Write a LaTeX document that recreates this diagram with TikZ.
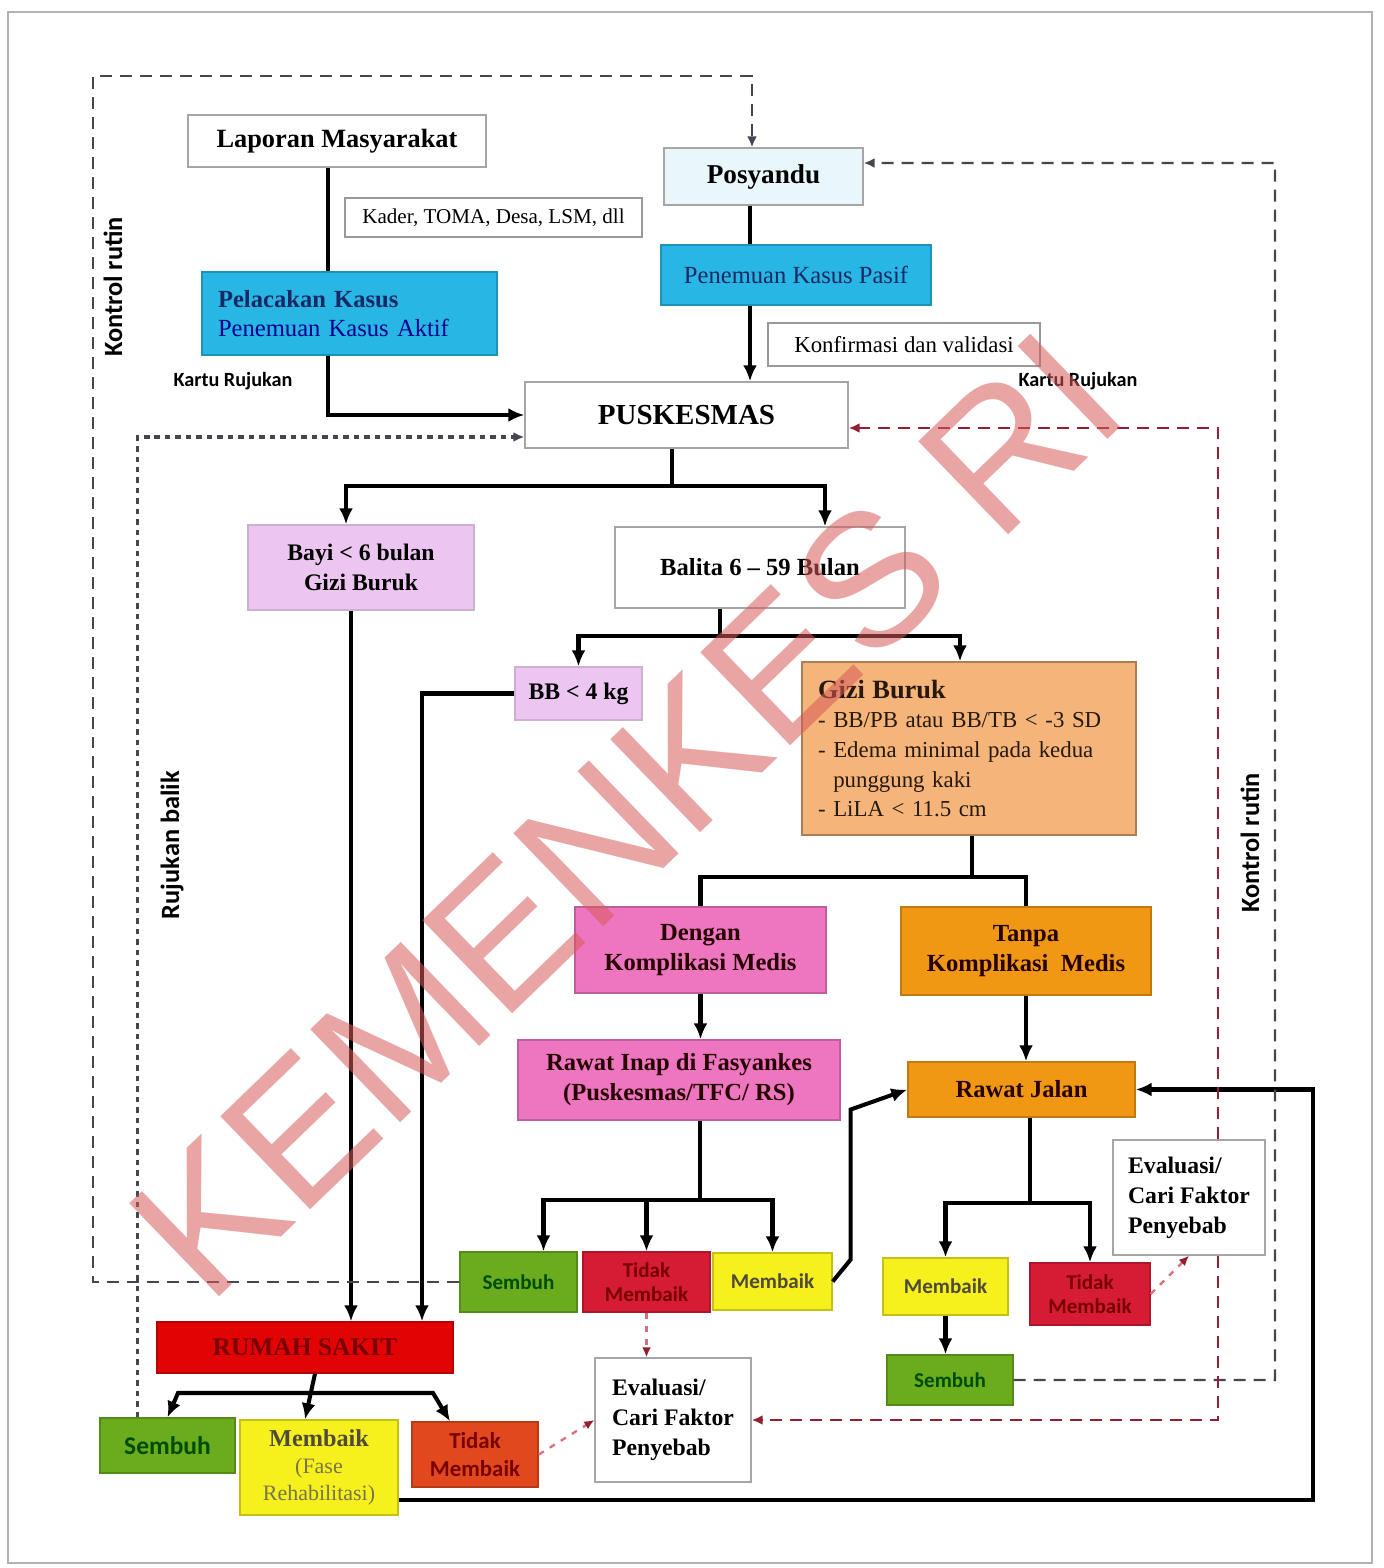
\documentclass[tikz,border=0pt]{standalone}
\usepackage{fontspec}
\setmainfont{Liberation Serif}
\setsansfont{Liberation Sans}
\newfontfamily\condsans{Carlito}
\usetikzlibrary{arrows.meta}
\definecolor{navy}{RGB}{25,40,100}
\definecolor{skyblue}{RGB}{40,182,228}
\definecolor{posyfill}{RGB}{234,247,250}
\definecolor{lilac}{RGB}{236,198,240}
\definecolor{peach}{RGB}{245,180,122}
\definecolor{pinkish}{RGB}{238,118,192}
\definecolor{orangey}{RGB}{240,152,20}
\definecolor{greeny}{RGB}{106,172,30}
\definecolor{redish}{RGB}{214,28,52}
\definecolor{yellowy}{RGB}{246,240,28}
\definecolor{rsred}{RGB}{226,4,4}
\definecolor{rsdark}{RGB}{120,0,0}
\definecolor{tidakred}{RGB}{226,72,30}
\definecolor{dashgray}{RGB}{70,70,80}
\definecolor{darkred}{RGB}{150,30,50}
\definecolor{dotred}{RGB}{215,110,120}
\definecolor{wmred}{RGB}{215,90,90}
\begin{document}
\begin{tikzpicture}
[x=0.02cm, y=-0.02cm,
plain/.style={rectangle, draw=gray!70, thick, fill=white, align=center, inner sep=2pt, font=\bfseries\fontsize{14}{17}\selectfont},
notebox/.style={rectangle, draw=gray!80, thick, fill=white, inner sep=2pt, font=\fontsize{12}{14}\selectfont},
posybox/.style={plain, fill=posyfill, font=\bfseries\fontsize{15.5}{18}\selectfont},
bluebox/.style={plain, fill=skyblue, draw=skyblue!80!black, text=navy, font=\fontsize{14}{16.5}\selectfont},
lilacbox/.style={plain, fill=lilac, draw=lilac!70!gray, font=\bfseries\fontsize{13.5}{17}\selectfont},
peachbox/.style={plain, fill=peach, draw=peach!70!black, text=black!80!brown, align=left, font=\fontsize{13}{16.8}\selectfont},
pinkbox/.style={plain, fill=pinkish, draw=pinkish!80!black, text=black!85!red, font=\bfseries\fontsize{14}{17}\selectfont},
orangebox/.style={plain, fill=orangey, draw=orangey!80!black, text=black!85!red, font=\bfseries\fontsize{14}{17}\selectfont},
smallbox/.style={plain, font=\condsans\bfseries\fontsize{12}{14}\selectfont},
greenbox/.style={smallbox, fill=greeny, draw=greeny!80!black, text=black!70!green},
redbox/.style={smallbox, fill=redish, draw=redish!80!black, text=rsdark},
yellowbox/.style={smallbox, fill=yellowy, draw=yellowy!80!black, text=black!80!yellow},
rsbox/.style={plain, fill=rsred, draw=rsred!80!black, text=rsdark, font=\bfseries\fontsize{14.5}{17}\selectfont},
rsredbox/.style={smallbox, fill=tidakred, draw=tidakred!80!black, text=rsdark, font=\condsans\bfseries\fontsize{13}{16}\selectfont},
evalbox/.style={plain, align=left, font=\bfseries\fontsize{13.5}{17}\selectfont},
sidelabel/.style={inner sep=1pt, font=\condsans\bfseries\fontsize{11.5}{13}\selectfont},
conn/.style={line width=2.3pt, black},
arr/.style={conn, -{Latex[length=3.2mm,width=2.8mm]}},
dashline/.style={line width=1.4pt, dashgray, dash pattern=on 2.4mm off 1.6mm, -{Latex[length=2.2mm,width=2mm]}},
dotline/.style={line width=1.8pt, dashgray, dash pattern=on 1.1mm off 1mm, -{Latex[length=2.2mm,width=2mm]}},
reddash/.style={line width=1.4pt, darkred, dash pattern=on 2.4mm off 1.6mm, -{Latex[length=2.2mm,width=2mm]}},
reddot/.style={line width=1.3pt, dotred, dash pattern=on 1.2mm off 1.4mm, -{Latex[length=2mm,width=1.8mm,color=darkred]}}
]
\useasboundingbox (0,0) rectangle (1383,1568);
\draw[gray!60, thick] (8,12) rectangle (1372,1563);

%Nodes
\node[plain, minimum width=5.96cm, minimum height=1.04cm, font=\bfseries\fontsize{15}{18}\selectfont] (lap) at (337,141) {Laporan Masyarakat};
\node[notebox, minimum width=5.94cm, minimum height=0.78cm] (kader) at (493.5,217.5) {Kader, TOMA, Desa, LSM, dll};
\node[bluebox, minimum width=5.9cm, minimum height=1.66cm, text width=5.26cm, align=left, inner xsep=0.32cm] (pelacak) at (349.5,313.5) {{\bfseries Pelacakan Kasus}\\\textcolor{blue!55!black}{Penemuan Kasus Aktif}};
\node[posybox, minimum width=3.98cm, minimum height=1.14cm] (posy) at (763.5,176.5) {Posyandu};
\node[bluebox, minimum width=5.4cm, minimum height=1.2cm] (pasif) at (796,275) {Penemuan Kasus Pasif};
\node[notebox, minimum width=5.44cm, minimum height=0.86cm, font=\fontsize{13}{15}\selectfont] (konf) at (904,344.5) {Konfirmasi dan validasi};
\node[plain, minimum width=6.46cm, minimum height=1.32cm, font=\bfseries\fontsize{16.5}{20}\selectfont] (pusk) at (686.5,415) {PUSKESMAS};
\node[lilacbox, minimum width=4.52cm, minimum height=1.7cm] (bayi) at (361,567.5) {Bayi < 6 bulan\\Gizi Buruk};
\node[plain, minimum width=5.8cm, minimum height=1.62cm] (balita) at (760,567.5) {Balita 6 – 59 Bulan};
\node[lilacbox, minimum width=2.54cm, minimum height=1.06cm] (bb) at (578.5,693.5) {BB < 4 kg};
\node[peachbox, minimum width=6.68cm, minimum height=3.46cm, text width=6.04cm, inner xsep=0.32cm] (gizi) at (969,748.5) {{\bfseries\fontsize{15}{18}\selectfont Gizi Buruk}\\- BB/PB atau BB/TB < -3 SD\\- Edema minimal pada kedua\\\phantom{- }punggung kaki\\- LiLA < 11.5 cm};
\node[pinkbox, minimum width=5.02cm, minimum height=1.72cm] (dengan) at (700.5,950) {Dengan\\Komplikasi Medis};
\node[orangebox, minimum width=5cm, minimum height=1.76cm] (tanpa) at (1026,951) {Tanpa\\Komplikasi\ \ Medis};
\node[pinkbox, minimum width=6.44cm, minimum height=1.6cm] (inap) at (679,1080) {Rawat Inap di Fasyankes\\(Puskesmas/TFC/ RS)};
\node[orangebox, minimum width=4.54cm, minimum height=1.1cm] (jalan) at (1021.5,1089.5) {Rawat Jalan};
\node[greenbox, minimum width=2.34cm, minimum height=1.2cm] (sembA) at (518.5,1282) {Sembuh};
\node[redbox, minimum width=2.54cm, minimum height=1.2cm] (tidakA) at (646.5,1282) {Tidak\\Membaik};
\node[yellowbox, minimum width=2.38cm, minimum height=1.14cm] (baikA) at (772.5,1281.5) {Membaik};
\node[yellowbox, minimum width=2.5cm, minimum height=1.14cm] (baikB) at (945.5,1286.5) {Membaik};
\node[redbox, minimum width=2.4cm, minimum height=1.24cm] (tidakB) at (1090,1294) {Tidak\\Membaik};
\node[evalbox, minimum width=3.04cm, minimum height=2.3cm] (evalR) at (1189,1197.5) {Evaluasi/\\Cari Faktor\\Penyebab};
\node[greenbox, minimum width=2.52cm, minimum height=1cm] (sembB) at (950,1380) {Sembuh};
\node[rsbox, minimum width=5.92cm, minimum height=1.02cm] (rs) at (305,1347.5) {RUMAH SAKIT};
\node[greenbox, minimum width=2.7cm, minimum height=1.1cm, font=\condsans\bfseries\fontsize{14.5}{17}\selectfont] (sembC) at (167.5,1445.5) {Sembuh};
\node[yellowbox, minimum width=3.16cm, minimum height=1.9cm, text=black!80!yellow, font=\fontsize{12.5}{15.5}\selectfont] (baikC) at (319,1467.5) {{\bfseries\fontsize{13.8}{15.5}\selectfont Membaik}\\\textcolor{black!60!yellow}{(Fase}\\\textcolor{black!60!yellow}{Rehabilitasi)}};
\node[rsredbox, minimum width=2.52cm, minimum height=1.3cm] (tidakC) at (475,1454.5) {Tidak\\Membaik};
\node[evalbox, minimum width=3.12cm, minimum height=2.48cm] (evalB) at (673,1420) {Evaluasi/\\Cari Faktor\\Penyebab};

\node[sidelabel] (kartuL) at (233,381) {Kartu Rujukan};
\node[sidelabel] (kartuR) at (1078,381) {Kartu Rujukan};
\node[sidelabel, rotate=90, font=\condsans\bfseries\fontsize{15}{17}\selectfont] (kontrolL) at (113,287) {Kontrol rutin};
\node[sidelabel, rotate=90, font=\condsans\bfseries\fontsize{15}{17}\selectfont] (balik) at (172,845) {Rujukan balik};
\node[sidelabel, rotate=90, font=\condsans\bfseries\fontsize{15}{17}\selectfont] (kontrolR) at (1250,843) {Kontrol rutin};

\coordinate (j1) at (672,486);
\coordinate (j2) at (720,636);
\coordinate (j3) at (972,877);
\coordinate (j4) at (700,1200);
\coordinate (j5) at (1030,1203);
\coordinate (j6) at (310,1393);
\coordinate (rc) at (1313,1500);
\coordinate (kl) at (93,76);
\coordinate (kr) at (1275,163);
\coordinate (rx) at (1218,428);

%Lines
\draw[conn] ([xshift=-0.18cm]lap.south) -- ([xshift=-0.18cm]lap.south |- pelacak.north);
\draw[arr] ([xshift=-0.18cm]lap.south |- pelacak.south) |- (pusk.west);
\draw[conn] ([xshift=-0.27cm]posy.south) -- ([xshift=-0.27cm]posy.south |- pasif.north);
\draw[arr] ([xshift=-0.27cm]posy.south |- pasif.south) -- ([xshift=-0.27cm]posy.south |- pusk.north);
\draw[conn] (pusk.south -| j1) -- (j1);
\draw[arr] (j1) -| ([xshift=-0.3cm]bayi.north);
\draw[arr] (j1) -| ([xshift=1.3cm]balita.north);
\draw[conn] (balita.south -| j2) -- (j2);
\draw[arr] (j2) -| (bb.north);
\draw[arr] (j2) -| ([xshift=-0.18cm]gizi.north);
\draw[arr] ([xshift=-0.2cm]bayi.south) -- ([xshift=-0.2cm]bayi.south |- rs.north);
\draw[arr] (bb.west) -| ([xshift=2.34cm]rs.north);
\draw[conn] (gizi.south -| j3) -- (j3);
\draw[conn] (j3) -| (dengan.north);
\draw[conn] (j3) -| (tanpa.north);
\draw[arr] (dengan.south) -- (dengan.south |- inap.north);
\draw[arr] (tanpa.south) -- (tanpa.south |- jalan.north);
\draw[conn] (inap.south -| j4) -- (j4);
\draw[arr] (j4) -| ([xshift=0.5cm]sembA.north);
\draw[arr] (j4) -| (tidakA.north);
\draw[arr] (j4) -| (baikA.north);
\draw[arr] (baikA.east) -- ++(18,-22) -- ++(0,-150) -- (jalan.west);
\draw[conn] (jalan.south -| j5) -- (j5);
\draw[arr] (j5) -| (baikB.north);
\draw[arr] (j5) -| (tidakB.north);
\draw[arr] (baikB.south) -- (baikB.south |- sembB.north);
\draw[arr] ([xshift=0.2cm]rs.south) -- ([xshift=-0.28cm]baikC.north);
\draw[arr] (j6) -- ++(-132,0) -- (sembC.north);
\draw[arr] (j6) -- ++(123,0) -- ([xshift=-0.5cm]tidakC.north);
\draw[arr] (baikC.east |- rc) -- (rc) |- (jalan.east);

\draw[dashline] (sembA.west) -| (kl) -| ([xshift=-0.23cm]posy.north);
\draw[dashline] (sembB.east) -| (kr) -- ([yshift=0.27cm]posy.east);
\draw[dotline] ([xshift=-0.6cm]sembC.north) |- ([yshift=-0.44cm]pusk.west);
\draw[reddash] (evalR.north -| rx) -- (rx) -- (pusk.east |- rx);
\draw[reddash] (evalR.south -| rx) |- (evalB.east);
\draw[reddot] (tidakA.south) -- (tidakA.south |- evalB.north);
\draw[reddot] (tidakC.east) -- (evalB.west);
\draw[reddot] (tidakB.east) -- (evalR.south);

\node[rotate=44, text=wmred, opacity=0.55, font=\sffamily\fontsize{107}{107}\selectfont] (wmark) at (626,815) {KEMENKES RI};
\end{tikzpicture}
\end{document}
